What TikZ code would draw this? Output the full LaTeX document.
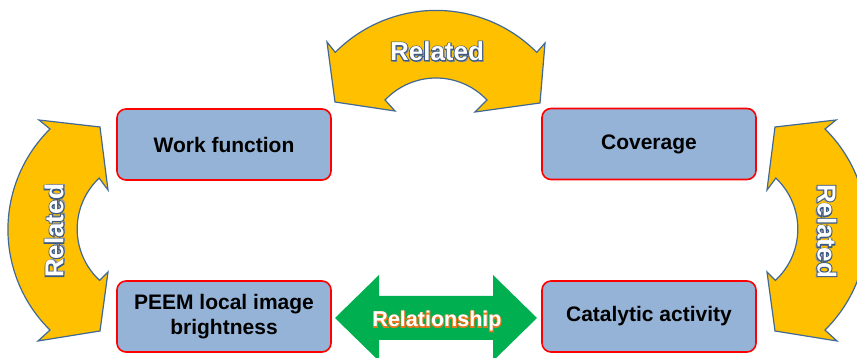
\documentclass[tikz,border=0pt]{standalone}
\usepackage{fontspec}
\setmainfont{Liberation Sans}
\usepackage{xcolor}

\definecolor{boxblue}{RGB}{149,179,215}
\definecolor{boxline}{RGB}{255,0,0}
\definecolor{arcfill}{RGB}{255,192,0}
\definecolor{arcline}{RGB}{65,105,150}
\definecolor{linkgreen}{RGB}{0,176,80}
\definecolor{softshadow}{RGB}{150,150,150}

% White letters with a coloured ring: a stroked copy (PDF text render
% mode 2) is laid down first and the plain white letters go on top.
% #1 ring colour as r g b, #2 stroke width, #3 shadow offset, #4 text
\newcommand\ringtext[4]{%
  \leavevmode
  \rlap{\color{softshadow}\hspace*{#3}\raisebox{-#3}{#4}}%
  \rlap{\color{white}\special{pdf:literal direct 2 Tr #2 w #1 RG}#4%
        \special{pdf:literal direct 0 Tr}}%
  {\color{white}#4}}

\tikzset{
  topic/.style={draw=boxline, line width=1.6pt, fill=boxblue,
    rounded corners=9pt, minimum width=214pt, minimum height=71pt,
    align=center, inner sep=2pt,
    font=\bfseries\fontsize{21}{25}\selectfont},
  bandarrow/.style={fill=arcfill, draw=arcline, line width=1.2pt, line join=miter},
  bandlabel/.style={inner sep=0pt, font=\bfseries\fontsize{26}{30}\selectfont},
  linklabel/.style={inner sep=0pt, font=\bfseries\fontsize{21.5}{26}\selectfont},
}

\begin{document}
\begin{tikzpicture}[x=1pt, y=1pt]
\useasboundingbox (0,0) rectangle (857,358);

% the four quantities
\node[topic] (work) at (224,213.5) {Work function};
\node[topic] (cover) at (649,214) {Coverage};
\node[topic] (peem) at (224,41.5) {PEEM local image\\brightness};
\node[topic] (cat) at (649,41.5) {Catalytic activity};

% curved band over the top
\draw[bandarrow]
  (436,205.6) ++(135.2:142) arc[start angle=135.2, end angle=44.8, radius=142]
  -- (545,315) -- (540,255) -- (475,246)
  -- (486.95,258) arc[start angle=43.3, end angle=136.7, radius=70]
  -- (395,247) -- (335,256) -- (327,316) -- cycle;
\node[bandlabel] (reltop) at (437,306)
  {\ringtext{0.235 0.353 0.51}{2.0}{1.6pt}{Related}};

% curved band on the left
\draw[bandarrow]
  (50,229) arc[start angle=134.6, end angle=225.4, radius=141.2]
  -- (38,17) -- (100,27) -- (108,86)
  -- (99.6,77.6) arc[start angle=227.2, end angle=133.3, radius=70]
  -- (108,168) -- (100,231) -- (39,238) -- cycle;
\node[bandlabel, rotate=90] (relleft) at (55,127)
  {\ringtext{0.235 0.353 0.51}{2.0}{1.6pt}{Related}};

% curved band on the right
\draw[bandarrow]
  (825,229) arc[start angle=45.4, end angle=-45.4, radius=141.2]
  -- (837,17) -- (775,27) -- (767,86)
  -- (775.4,77.6) arc[start angle=-47.2, end angle=46.7, radius=70]
  -- (767,168) -- (775,231) -- (836,238) -- cycle;
\node[bandlabel, rotate=-90] (relright) at (826,127)
  {\ringtext{0.235 0.353 0.51}{2.0}{1.6pt}{Related}};

% two-headed link between brightness and activity
\fill[linkgreen] (335,40) -- (379,83) -- (379,62) -- (493,62) -- (493,83)
  -- (537,40) -- (493,-3) -- (493,18) -- (379,18) -- (379,-3) -- cycle;
\node[linklabel, anchor=base] (link) at (437,31)
  {\ringtext{0.894 0.471 0.118}{1.8}{0pt}{Relationship}};
\end{tikzpicture}
\end{document}
